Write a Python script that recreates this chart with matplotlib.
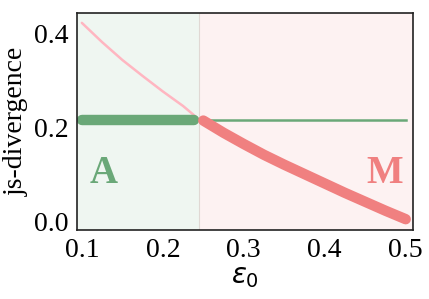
import matplotlib
matplotlib.use("Agg")
import matplotlib.pyplot as plt

# epsilon_0 grid and the js-divergence
eps_thin = [0.100, 0.125, 0.150, 0.175, 0.200, 0.225, 0.245]
js_pink_thin = [0.422, 0.381, 0.343, 0.309, 0.276, 0.245, 0.216]

eps_thick = [0.250, 0.275, 0.300, 0.325, 0.350, 0.375, 0.400, 0.425, 0.450, 0.475, 0.500]
js_pink_thick = [0.214, 0.188, 0.164, 0.141, 0.120, 0.100, 0.080, 0.060, 0.041, 0.022, 0.004]

eps_green_thick = [0.100, 0.238]
js_green_thick = [0.215, 0.215]
eps_green_thin = [0.245, 0.500]
js_green_thin = [0.215, 0.215]

split = 0.245
xticks = [0.1, 0.2, 0.3, 0.4, 0.5]
yticks = [0.0, 0.2, 0.4]

green = "#6aa878"
pink = "#f08080"
light_pink = "#ffb6c1"

plt.rcParams["font.family"] = ["Liberation Serif", "DejaVu Serif"]
plt.rcParams["mathtext.fontset"] = "dejavusans"

fig = plt.figure(figsize=(4.29, 2.99), dpi=100)
ax = fig.add_axes([0.1795, 0.2308, 0.7832, 0.7257])

ax.set_xlim(0.094, 0.509)
ax.set_ylim(-0.019, 0.443)

ax.axvspan(0.094, split, color=green, alpha=0.1, lw=0)
ax.axvspan(split, 0.509, color=pink, alpha=0.1, lw=0)
ax.axvline(split, color="#e0d8d4", lw=0.8)

ax.plot(eps_thin, js_pink_thin, color=light_pink, lw=1.8, solid_capstyle="round")
ax.plot(eps_green_thin, js_green_thin, color=green, lw=1.8)
ax.plot(eps_green_thick, js_green_thick, color=green, lw=7.5, solid_capstyle="round")
ax.plot(eps_thick, js_pink_thick, color=pink, lw=7.5, solid_capstyle="round")

ax.text(0.1265, 0.102, "A", color=green, fontsize=28, fontweight="bold",
        ha="center", va="center")
ax.text(0.4735, 0.102, "M", color=pink, fontsize=28, fontweight="bold",
        ha="center", va="center")

ax.set_xticks(xticks)
ax.set_xticklabels(["0.1", "0.2", "0.3", "0.4", "0.5"])
ax.set_yticks(yticks)
ax.set_yticklabels(["0.0", "0.2", "0.4"])
ax.tick_params(length=0, labelsize=20, pad=6)

ax.set_xlabel(r"$\varepsilon_0$", fontsize=20, labelpad=1)
ax.set_ylabel("js-divergence", fontsize=20, labelpad=4)

for s in ax.spines.values():
    s.set_color("#222222")
    s.set_linewidth(1.2)

fig.savefig("out.png", dpi=100)
